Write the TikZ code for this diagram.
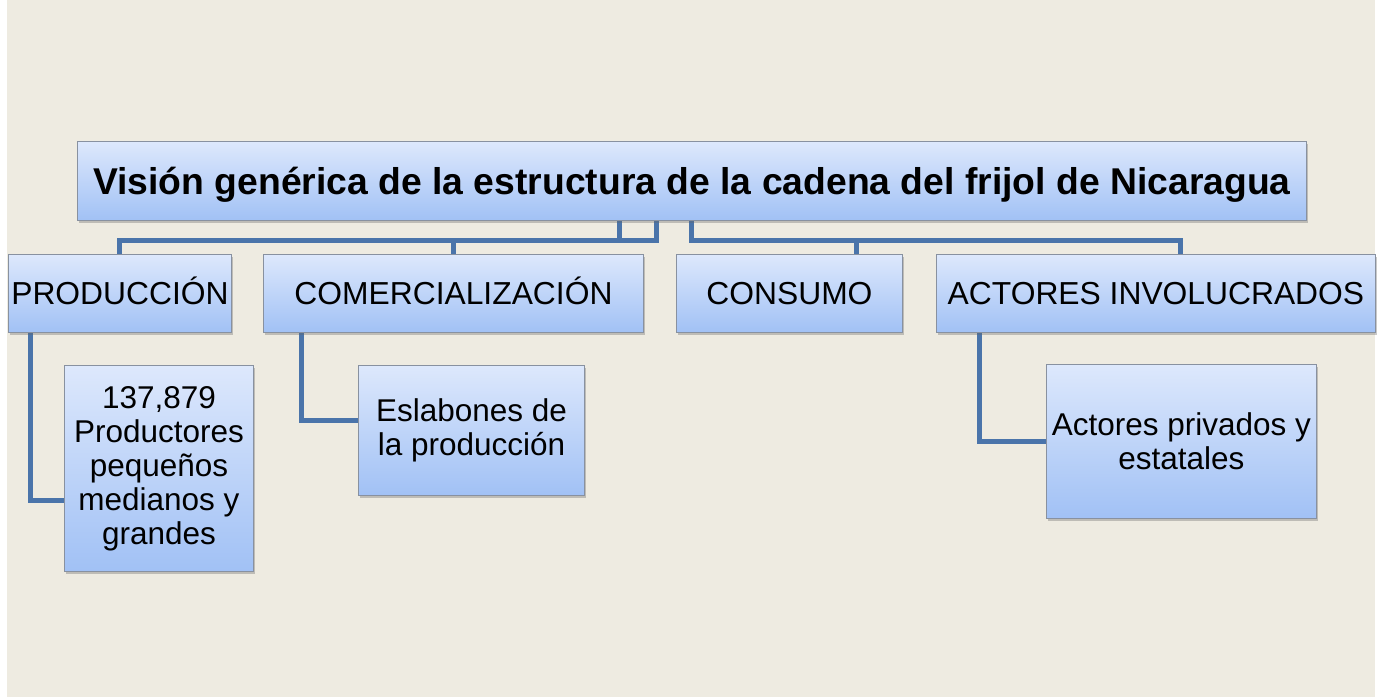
\documentclass[tikz,border=0pt]{standalone}
\usepackage{fontspec}
\setmainfont{Liberation Sans}
\usetikzlibrary{shadows,calc}
\definecolor{bgbeige}{HTML}{EEEBE1}
\definecolor{boxtop}{HTML}{DDE8FC}
\definecolor{boxbot}{HTML}{A1C1F5}
\definecolor{boxline}{HTML}{8891A0}
\definecolor{connblue}{HTML}{4A74AA}
\pgfdeclarelayer{bglayer}
\pgfdeclarelayer{connlayer}
\pgfsetlayers{bglayer,connlayer,main}
\tikzset{
  box/.style={draw=boxline, line width=0.9pt, top color=boxtop, bottom color=boxbot,
    anchor=north west, inner sep=0pt, align=center,
    drop shadow={shadow xshift=2pt, shadow yshift=-3pt, opacity=0.35, fill=black!60}},
  lvltwo/.style={box, font=\fontsize{31.8}{34}\selectfont, text height=22.8pt, text depth=0pt},
  lvlthree/.style={box, font=\fontsize{31.5}{34}\selectfont},
  titlebox/.style={box, font=\fontsize{37.3}{40}\selectfont\bfseries, text height=26.7pt, text depth=0pt},
  conn/.style={draw=connblue, line width=5pt, line join=miter, line cap=rect}
}
\begin{document}
\begin{tikzpicture}[x=1pt,y=-1pt]
\useasboundingbox (0,0) rectangle (1383,697);
\begin{pgfonlayer}{bglayer}
  \fill[white] (0,0) rectangle (1383,697);
  \fill[bgbeige] (7,0) rectangle (1375,697);
\end{pgfonlayer}

\node[titlebox, minimum width=1229pt, minimum height=79pt] (T) at (77,141)
  {Visión genérica de la estructura de la cadena del frijol de Nicaragua};

\node[lvltwo, minimum width=223pt, minimum height=78pt] (P) at (8,254) {PRODUCCIÓN};
\node[lvltwo, minimum width=380pt, minimum height=78pt] (C) at (263,254) {COMERCIALIZACIÓN};
\node[lvltwo, minimum width=226pt, minimum height=78pt] (S) at (676,254) {CONSUMO};
\node[lvltwo, minimum width=439pt, minimum height=78pt] (A) at (936,254) {ACTORES INVOLUCRADOS};

\node[lvlthree, minimum width=189pt, minimum height=206pt] (N) at (64,365)
  {137,879\\Productores\\pequeños\\medianos y\\grandes};
\node[lvlthree, minimum width=226pt, minimum height=130pt] (E) at (358,365)
  {Eslabones de\\la producción};
\node[lvlthree, minimum width=270pt, minimum height=154pt] (R) at (1046,364)
  {Actores privados y\\estatales};

\coordinate (ja) at (619,240);
\coordinate (jb) at (656,240);
\coordinate (jc) at (691,240);
\coordinate (jd) at (856,240);
\coordinate (je) at (1180,240);
\coordinate (lp) at (30,500);
\coordinate (lc) at (301,420);
\coordinate (la) at (979,441);

\begin{pgfonlayer}{connlayer}
  \draw[conn] (T.south -| ja) -- (ja) -| (P.north);
  \draw[conn] (C.north |- ja) -- (C.north);
  \draw[conn] (T.south -| jb) -- (jb) -- (ja);
  \draw[conn] (T.south -| jc) -- (jc) -- (je) -- (A.north -| je);
  \draw[conn] (jd) -- (S.north -| jd);
  \draw[conn] (P.south -| lp) -- (lp) -- (N.west |- lp);
  \draw[conn] (C.south -| lc) -- (lc) -- (E.west |- lc);
  \draw[conn] (A.south -| la) -- (la) -- (R.west |- la);
\end{pgfonlayer}
\end{tikzpicture}
\end{document}
